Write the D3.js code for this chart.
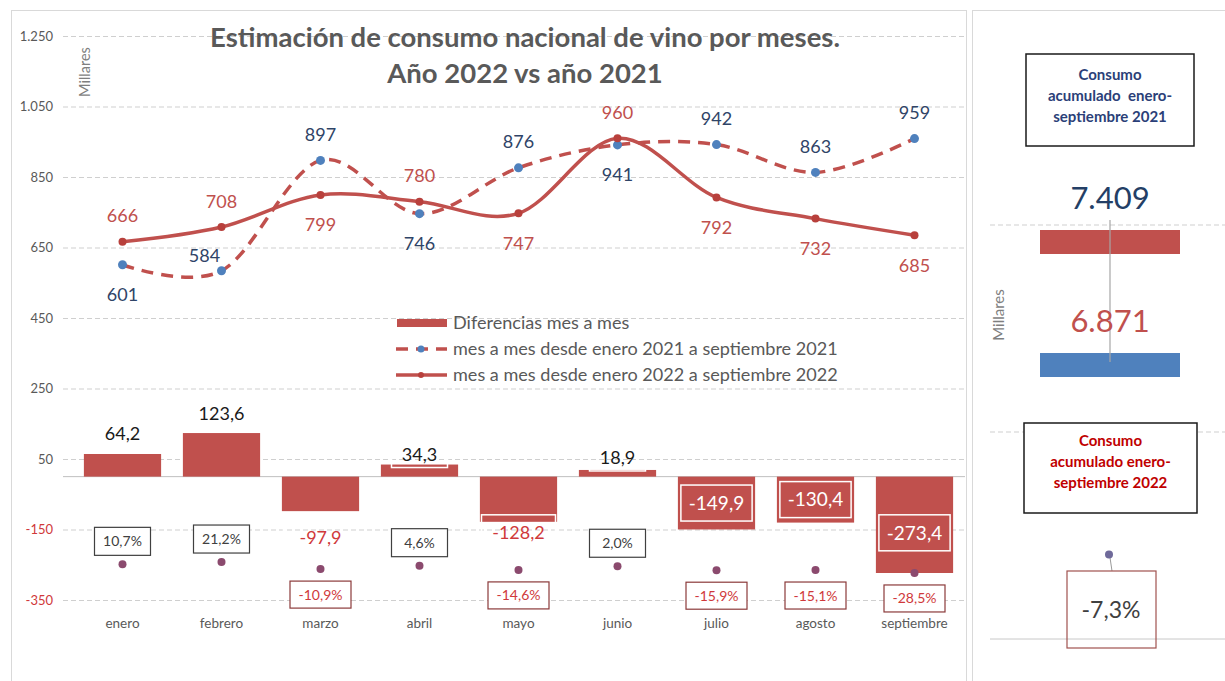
<!DOCTYPE html>
<html lang="es">
<head>
<meta charset="UTF-8">
<title>Estimación de consumo nacional de vino por meses</title>
<script src="https://cdn.jsdelivr.net/npm/d3@7"></script>
<style>
  body { margin: 0; background: #fff; }
  svg { display: block; font-family: Lato, "Open Sans", sans-serif; }
</style>
</head>
<body>
<svg id="chart" width="1225" height="681"></svg>
<script>
// datos (miles de hl)
const months = ["enero", "febrero", "marzo", "abril", "mayo", "junio", "julio", "agosto", "septiembre"];
const consumo2021 = [601, 584, 897, 746, 876, 941, 942, 863, 959];
const consumo2022 = [666, 708, 799, 780, 747, 960, 792, 732, 685];
const diferencias = [64.2, 123.6, -97.9, 34.3, -128.2, 18.9, -149.9, -130.4, -273.4];
const variacionPct = [10.7, 21.2, -10.9, 4.6, -14.6, 2.0, -15.9, -15.1, -28.5];
const yTicks = [1250, 1050, 850, 650, 450, 250, 50, -150, -350];
const acumYears = ["2021", "2022"];
const acumValues = [7409, 6871];
const variacionTotal = -7.3;
const legendLabels = ["Diferencias mes a mes", "mes a mes desde enero 2021 a septiembre 2021", "mes a mes desde enero 2022 a septiembre 2022"];

const rojo = "#C0504D", azul = "#4F81BD", gris = "#595959", rojoTxt = "#d0393b", azulTxt = "#2f4467";

const locale = d3.formatLocale({ decimal: ",", thousands: ".", grouping: [3], currency: ["", " €"], minus: "-" });
const fmtInt = locale.format(",d");
const fmt1 = locale.format(",.1f");

const svg = d3.select("#chart");

// marcos de los dos paneles
svg.append("rect").attr("x", 11.5).attr("y", 10.5).attr("width", 955).attr("height", 700)
  .attr("fill", "none").attr("stroke", "#d9d9d9");
svg.append("rect").attr("x", 972.5).attr("y", 10.5).attr("width", 270).attr("height", 700)
  .attr("fill", "none").attr("stroke", "#d9d9d9");

const x = d3.scaleBand().domain(months).range([73, 964]).paddingInner(0.22).paddingOuter(0.11);
const y = d3.scaleLinear().domain([-350, 1250]).range([600, 36]);
const yPct = d3.scaleLinear().domain([-30, 30]).range([573.3, 560.1]);
const cx = m => x(m) + x.bandwidth() / 2;

// rejilla
svg.append("g").attr("transform", "translate(63,0)")
  .call(d3.axisLeft(y).tickValues(yTicks).tickSize(-902).tickFormat(""))
  .call(g => g.select(".domain").remove())
  .call(g => g.selectAll("line").attr("stroke", "#cfcfcf").attr("stroke-dasharray", "5,3"));

// eje y
svg.append("g").attr("transform", "translate(55,0)")
  .call(d3.axisLeft(y).tickValues(yTicks).tickSize(0).tickPadding(2).tickFormat(d => fmtInt(d)))
  .call(g => g.select(".domain").remove())
  .attr("font-family", null).attr("font-size", null)
  .call(g => g.selectAll("text").attr("font-size", 13)
    .attr("fill", d => d < 0 ? rojoTxt : gris));

svg.append("text").attr("transform", "translate(90,72) rotate(-90)")
  .attr("text-anchor", "middle").attr("font-size", 14.5).attr("fill", "#7f7f7f").text("Millares");

// linea de cero
svg.append("line").attr("x1", 63).attr("x2", 965).attr("y1", y(0)).attr("y2", y(0))
  .attr("stroke", "#bfbfbf");

// barras de diferencias
svg.append("g").selectAll("rect").data(months).join("rect")
  .attr("x", m => x(m)).attr("width", x.bandwidth())
  .attr("y", (m, i) => y(Math.max(0, diferencias[i])))
  .attr("height", (m, i) => Math.abs(y(diferencias[i]) - y(0)))
  .attr("fill", rojo);

// etiquetas de barras
const dentro = ["julio", "agosto", "septiembre"];
const ajuste = { abril: 10, junio: 8, mayo: -15, septiembre: 8 };
const gBarLab = svg.append("g");
months.forEach((m, i) => {
  const v = diferencias[i];
  let cy, color, bw, bh, fs = 18;
  if (dentro.includes(m)) {
    cy = (y(0) + y(v)) / 2 + (ajuste[m] || 0); color = "#fff"; bw = x.bandwidth() - 6; bh = 36; fs = 19;
  } else if (v >= 0) {
    cy = y(v) - 20 + (ajuste[m] || 0); color = "#1a1a1a"; bw = 56; bh = 26;
  } else {
    cy = y(v) + 26 + (ajuste[m] || 0); color = rojoTxt; bw = 74; bh = 36;
  }
  gBarLab.append("rect").attr("x", cx(m) - bw / 2).attr("y", cy - bh / 2)
    .attr("width", bw).attr("height", bh)
    .attr("fill", "none").attr("stroke", "#fff").attr("stroke-width", 1.5);
  gBarLab.append("text").attr("x", cx(m)).attr("y", cy + fs * 0.36)
    .attr("text-anchor", "middle").attr("font-size", fs).attr("fill", color)
    .text(fmt1(v));
});

// lineas
const line = d3.line()
  .x((d, i) => cx(months[i]))
  .y(d => y(d))
  .curve(d3.curveCardinal.tension(0));

svg.append("path").datum(consumo2021).attr("d", line)
  .attr("fill", "none").attr("stroke", rojo).attr("stroke-width", 3.5)
  .attr("stroke-dasharray", "12,8");
svg.append("path").datum(consumo2022).attr("d", line)
  .attr("fill", "none").attr("stroke", rojo).attr("stroke-width", 3.5);

svg.append("g").selectAll("circle").data(consumo2021).join("circle")
  .attr("cx", (d, i) => cx(months[i])).attr("cy", d => y(d)).attr("r", 4.5).attr("fill", azul);
svg.append("g").selectAll("circle").data(consumo2022).join("circle")
  .attr("cx", (d, i) => cx(months[i])).attr("cy", d => y(d)).attr("r", 4).attr("fill", "#b8403c");

// etiquetas de lineas: la serie mayor encima, la menor debajo
const gLineLab = svg.append("g").attr("font-size", 18).attr("text-anchor", "middle");
months.forEach((m, i) => {
  [[consumo2021, azulTxt, consumo2022], [consumo2022, "#c0504d", consumo2021]].forEach(([serie, color, otra]) => {
    const v = serie[i];
    let above = v >= otra[i];
    let dx = 0;
    if (serie === consumo2021 && m === "febrero") { above = true; dx = -17; }
    const py = y(v);
    let by = above ? py - 19.5 : py + 36.5;
    if (serie === consumo2021 && m === "febrero") by = py - 9;
    gLineLab.append("text").attr("x", cx(m) + dx).attr("y", by).attr("fill", color).text(fmtInt(v));
  });
});

// variacion porcentual
svg.append("g").selectAll("circle").data(variacionPct).join("circle")
  .attr("cx", (d, i) => cx(months[i])).attr("cy", d => yPct(d)).attr("r", 4).attr("fill", "#8b4a6e");

const gPct = svg.append("g");
variacionPct.forEach((p, i) => {
  const c = cx(months[i]);
  const py = yPct(p);
  const pos = p >= 0;
  const bw = pos ? 56 : 61, bh = pos ? 28 : 27;
  const by = pos ? py - 9 - bh : py + 12;
  gPct.append("rect").attr("x", c - bw / 2).attr("y", by).attr("width", bw).attr("height", bh)
    .attr("fill", "#fff").attr("stroke", pos ? "#404040" : "#8b3a3a").attr("stroke-width", 1.2);
  gPct.append("text").attr("x", c).attr("y", by + bh / 2 + 5).attr("text-anchor", "middle")
    .attr("font-size", 14).attr("fill", pos ? "#404040" : rojoTxt)
    .text(fmt1(p) + "%");
});

// eje x
svg.append("g").selectAll("text").data(months).join("text")
  .attr("x", m => cx(m)).attr("y", 628).attr("text-anchor", "middle")
  .attr("font-size", 13.5).attr("fill", gris).text(m => m);

// titulo
const t1 = svg.append("text").attr("x", 525).attr("y", 47).attr("text-anchor", "middle")
  .attr("font-weight", "bold").attr("font-size", 22).attr("fill", gris)
  .text("Estimación de consumo nacional de vino por meses.");
const tfs = 22 * 630 / t1.node().getComputedTextLength();
t1.attr("font-size", tfs);
svg.append("text").attr("x", 525).attr("y", 83).attr("text-anchor", "middle")
  .attr("font-weight", "bold").attr("font-size", tfs).attr("fill", gris)
  .text("Año 2022 vs año 2021");

// leyenda
const legY = [323, 349, 375];
const gLeg = svg.append("g");
gLeg.append("rect").attr("x", 397).attr("y", legY[0] - 4).attr("width", 50).attr("height", 8).attr("fill", rojo);
gLeg.append("line").attr("x1", 396).attr("x2", 447).attr("y1", legY[1]).attr("y2", legY[1])
  .attr("stroke", rojo).attr("stroke-width", 3.5).attr("stroke-dasharray", "12,8");
gLeg.append("circle").attr("cx", 421).attr("cy", legY[1]).attr("r", 3.5).attr("fill", azul);
gLeg.append("line").attr("x1", 396).attr("x2", 447).attr("y1", legY[2]).attr("y2", legY[2])
  .attr("stroke", rojo).attr("stroke-width", 3.5);
gLeg.append("circle").attr("cx", 421).attr("cy", legY[2]).attr("r", 3).attr("fill", "#b8403c");
const legTexts = gLeg.selectAll("text").data(legendLabels).join("text")
  .attr("x", 453).attr("y", (d, i) => legY[i] + 5.5)
  .attr("font-size", 16).attr("fill", gris).text(d => d);
const legW = legTexts.nodes()[1].getComputedTextLength();
legTexts.attr("font-size", 16 * 385 / legW);

// panel derecho
const yR = d3.scaleLinear().domain([0, 2]).range([639, 225]);
svg.append("g").selectAll("line").data([1, 2]).join("line")
  .attr("x1", 990).attr("x2", 1225).attr("y1", d => yR(d)).attr("y2", d => yR(d))
  .attr("stroke", "#cfcfcf").attr("stroke-dasharray", "5,3");
svg.append("line").attr("x1", 990).attr("x2", 1225).attr("y1", yR(0)).attr("y2", yR(0))
  .attr("stroke", "#c8c8c8");

const yRb = d3.scaleBand().domain(acumYears).range([230, 377]).paddingInner(0.805);
svg.append("g").selectAll("rect").data(acumYears).join("rect")
  .attr("x", 1040).attr("width", 140).attr("y", d => yRb(d)).attr("height", yRb.bandwidth())
  .attr("fill", (d, i) => i === 0 ? rojo : azul);
svg.append("line").attr("x1", 1110).attr("x2", 1110).attr("y1", 220).attr("y2", 362)
  .attr("stroke", "#a6a6a6").attr("stroke-width", 1.2);
svg.append("g").selectAll("text").data(acumYears).join("text")
  .attr("x", 1110).attr("y", d => yRb(d) - 21).attr("text-anchor", "middle")
  .attr("font-size", 31).attr("fill", (d, i) => i === 0 ? "#243f66" : rojo)
  .text((d, i) => fmtInt(acumValues[i]));

svg.append("text").attr("transform", "translate(1004,315) rotate(-90)")
  .attr("text-anchor", "middle").attr("font-size", 15).attr("fill", "#7f7f7f").text("Millares");

function cuadro(x0, y0, w, h, color, lines, ys) {
  svg.append("rect").attr("x", x0).attr("y", y0).attr("width", w).attr("height", h)
    .attr("fill", "#fff").attr("stroke", "#1a1a1a").attr("stroke-width", 1.5);
  svg.append("g").selectAll("text").data(lines).join("text")
    .attr("x", x0 + w / 2).attr("y", (d, i) => ys[i]).attr("text-anchor", "middle")
    .attr("font-size", 15).attr("font-weight", "bold").attr("fill", color)
    .attr("xml:space", "preserve").text(d => d);
}
cuadro(1026, 54, 168, 92, "#2b3f78", ["Consumo", "acumulado  enero-", "septiembre 2021"], [80, 101, 122]);
cuadro(1024, 423, 173, 90, "#c00000", ["Consumo", "acumulado enero-", "septiembre 2022"], [446, 467, 488]);

const yTot = d3.scaleLinear().domain([-10, 0]).range([560, 540]);
svg.append("line").attr("x1", 1110).attr("x2", 1112).attr("y1", yTot(variacionTotal) + 3).attr("y2", 571)
  .attr("stroke", "#9a9a9a");
svg.append("circle").attr("cx", 1109).attr("cy", yTot(variacionTotal)).attr("r", 4).attr("fill", "#6f6a9a");
svg.append("rect").attr("x", 1067).attr("y", 571).attr("width", 89).attr("height", 77)
  .attr("fill", "none").attr("stroke", "#a0524f").attr("stroke-width", 1.2);
svg.append("text").attr("x", 1111).attr("y", 618).attr("text-anchor", "middle")
  .attr("font-size", 23).attr("fill", "#404040").text(fmt1(variacionTotal) + "%");
</script>
</body>
</html>
